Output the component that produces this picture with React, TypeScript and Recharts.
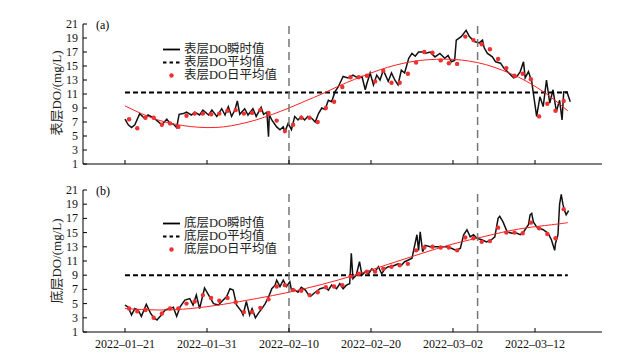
import { ComposedChart, Line, ReferenceLine, Scatter, XAxis, YAxis } from "recharts";

// x values are days since 2022-01-21
const dateTicks = [0, 10, 20, 30, 40, 50];
const dateLabels = ["2022–01–21", "2022–01–31", "2022–02–10", "2022–02–20", "2022–03–02", "2022–03–12"];
const doTicks = [1, 3, 5, 7, 9, 11, 13, 15, 17, 19, 21];
const splitDays = [20, 43];
const meanSpan = [0, 54];

const dailyDays = [
    0.5, 1.5, 2.5, 3.5, 4.5, 5.5, 6.5, 7.5, 8.5, 9.5, 10.5, 11.5, 12.5, 13.5, 14.5, 15.5, 16.5, 17.5,
    18.5, 19.5, 20.5, 21.5, 22.5, 23.5, 24.5, 25.5, 26.5, 27.5, 28.5, 29.5, 30.5, 31.5, 32.5, 33.5,
    34.5, 35.5, 36.5, 37.5, 38.5, 39.5, 40.5, 41.5, 42.5, 43.5, 44.5, 45.5, 46.5, 47.5, 48.5, 49.5,
    50.5, 51.5, 52.5, 53.5,
];

// 表层 (surface)
const surfT = [
    0, 0.4, 0.8, 1.2, 1.8, 2.4, 2.8, 3.5, 3.9, 4.5, 5.1, 5.5, 5.9, 6.3, 6.6, 7.1, 7.5, 8.1, 8.5, 9.1,
    9.5, 10.2, 10.6, 11.2, 11.8, 12.2, 12.6, 13.0, 13.4, 13.7, 14.0, 14.6, 15.0, 15.6, 16.0, 16.6,
    16.9, 17.3, 17.5, 17.6, 17.9, 18.5, 18.9, 19.3, 19.5, 19.9, 20.3, 20.7, 21.1, 21.5, 21.9, 22.3,
    22.8, 23.2, 23.6, 24.0, 24.4, 24.8, 25.2, 25.6, 26.0, 26.4, 26.6, 27.2, 27.8, 28.4, 28.9, 29.3,
    29.5, 29.9, 30.3, 30.7, 31.1, 31.5, 32.1, 32.5, 32.9, 33.3, 33.7, 34.1, 34.6, 35.0, 35.4, 35.8,
    36.4, 36.6, 37.2, 37.8, 38.4, 39.0, 39.4, 39.8, 40.2, 40.4, 41.0, 41.6, 42.0, 42.6, 43.2, 43.6,
    43.8, 44.2, 44.8, 45.2, 45.8, 46.2, 46.8, 47.4, 47.8, 48.2, 48.6, 48.8, 49.2, 49.6, 49.8, 50.2,
    50.6, 51.0, 51.4, 51.8, 52.2, 52.6, 53.0, 53.3, 53.5, 53.9, 54.3,
];
const surfInst = [
    7.4, 6.6, 6.2, 6.6, 8.2, 7.5, 8.0, 7.6, 7.2, 6.6, 7.4, 6.8, 6.7, 6.2, 8.1, 8.2, 8.4, 8.0, 8.4, 8.0,
    8.7, 8.0, 8.7, 7.8, 8.9, 8.0, 9.2, 7.8, 8.7, 10.0, 8.1, 8.9, 8.0, 8.9, 7.8, 9.1,
    8.1, 8.4, 4.9, 8.0, 7.3, 6.3, 5.9, 6.3, 5.6, 6.8, 5.9, 7.8, 7.3, 7.8, 7.3, 7.8,
    7.5, 7.0, 8.2, 9.0, 8.8, 10.1, 9.9, 11.3, 12.0, 13.0, 13.5, 13.3, 13.7, 13.3, 13.5, 11.6,
    12.5, 14.0, 12.3, 13.7, 13.0, 14.4, 12.8, 14.0, 13.0, 12.3, 14.4, 14.0, 16.1, 16.8, 16.4, 17.0,
    17.0, 16.8, 17.0, 16.3, 16.8, 16.1, 16.5, 15.6, 15.8, 18.7, 19.2, 20.1, 19.2, 18.5, 18.3, 18.7,
    17.6, 16.8, 16.3, 15.6, 15.4, 14.7, 14.0, 13.3, 13.5, 14.2, 15.6, 13.3, 14.2, 12.8, 11.1, 7.8,
    10.6, 9.2, 13.0, 9.7, 11.6, 8.5, 10.1, 7.3, 11.3, 11.3, 9.9,
];
const surfDaily = [
    7.4, 6.1, 7.6, 7.6, 6.6, 6.8, 6.3, 7.9, 8.2, 8.2, 8.1, 8.2, 8.6, 8.7, 8.2, 8.3, 8.7, 8.3,
    7.2, 5.7, 6.6, 7.6, 7.6, 7.0, 9.0, 9.9, 12.0, 13.4, 13.4, 13.6, 12.8, 14.3, 12.6, 12.6,
    13.9, 15.5, 17.0, 16.9, 15.8, 15.4, 15.3, 19.2, 18.7, 18.1, 17.4, 16.0, 14.7, 13.6, 13.9, 13.1,
    7.8, 9.6, 8.6, 10.0,
];
const surfFitT = [0, 2, 4, 6, 8, 10, 12, 14, 16, 18, 20, 22, 24, 26, 28, 30, 32, 34, 36, 38, 40, 42, 44, 46, 48, 50, 52, 54];
const surfFit = [
    9.3, 8.2, 7.3, 6.7, 6.35, 6.2, 6.3, 6.7, 7.3, 8.1, 9.0, 10.0, 11.0, 12.1, 13.1, 14.0, 14.8, 15.4,
    15.8, 15.95, 15.95, 15.7, 15.2, 14.4, 13.4, 12.1, 10.5, 8.6,
];
const surfMean = 11.2;

// 底层 (bottom)
const botT = [
    0, 0.4, 0.8, 1.2, 1.6, 2.0, 2.6, 3.1, 3.5, 3.9, 4.3, 4.9, 5.5, 5.9, 6.3, 6.7, 7.3, 7.9, 8.3, 8.7,
    9.1, 9.7, 10.2, 10.8, 11.4, 11.8, 12.4, 12.8, 13.2, 13.6, 14.2, 14.4, 14.8, 15.2, 15.5, 15.9,
    16.3, 16.7, 17.1, 17.5, 17.9, 18.3, 18.5, 18.9, 19.3, 19.7, 20.1, 20.3, 20.5, 21.1, 21.5, 22.0,
    22.4, 22.6, 23.2, 23.8, 24.4, 24.8, 25.2, 25.8, 26.2, 26.6, 27.0, 27.4, 27.6, 27.8, 28.2, 28.6,
    28.9, 29.3, 29.7, 30.1, 30.5, 30.9, 31.3, 31.7, 32.1, 32.5, 32.9, 33.3, 33.7, 34.1, 34.5, 35.0,
    35.2, 35.6, 35.8, 36.0, 36.3, 36.6, 37.2, 37.8, 38.4, 39.2, 39.8, 40.4, 40.9, 41.3, 41.7, 42.1,
    42.5, 42.9, 43.5, 44.1, 44.7, 45.1, 45.5, 45.7, 46.1, 46.6, 47.2, 47.8, 48.2, 48.6, 49.2, 49.4,
    49.6, 49.8, 50.2, 50.6, 51.0, 51.6, 52.0, 52.4, 52.5, 52.8, 53.0, 53.2, 53.4, 53.6, 53.8, 54.1,
];
const botInst = [
    4.8, 4.5, 3.4, 4.3, 4.1, 3.2, 4.9, 3.7, 3.0, 2.7, 3.2, 4.1, 4.3, 4.5, 3.2, 4.5, 5.5, 5.7, 4.8, 6.2,
    4.3, 7.2, 6.2, 5.0, 4.8, 5.3, 6.0, 7.1, 6.9, 4.8, 3.9, 3.4, 5.3, 3.4, 4.3, 3.0,
    3.7, 4.3, 5.0, 5.9, 7.1, 7.6, 8.3, 7.4, 8.3, 7.4, 8.1, 6.9, 7.1, 6.6, 7.3, 6.9,
    6.2, 6.0, 6.6, 7.1, 7.3, 6.9, 7.6, 7.1, 7.8, 7.1, 7.6, 7.8, 12.1, 8.5, 9.0, 10.9,
    9.0, 9.5, 9.2, 9.9, 9.5, 10.2, 9.2, 9.9, 10.2, 10.2, 10.4, 10.6, 10.4, 10.9, 11.1, 11.4,
    12.5, 14.7, 12.5, 15.1, 12.3, 13.2, 13.0, 13.0, 13.0, 13.0, 12.8, 12.5, 12.8, 14.7, 15.4, 14.4,
    14.7, 14.2, 14.0, 13.7, 14.0, 14.4, 17.0, 17.3, 16.5, 15.1, 14.9, 14.9, 14.7, 15.1, 16.1, 17.5,
    17.7, 16.5, 15.8, 15.6, 15.4, 14.9, 14.0, 12.5, 13.5, 14.7, 19.0, 20.4, 19.0, 18.1, 17.5, 18.1,
];
const botDaily = [
    4.3, 3.9, 4.1, 3.0, 3.6, 4.3, 4.3, 5.0, 5.3, 6.2, 5.8, 5.4, 5.8, 5.2, 3.8, 3.8, 4.4, 5.6,
    7.4, 7.6, 6.9, 6.8, 6.2, 6.6, 7.3, 7.4, 7.6, 8.8, 9.2, 9.5, 9.5, 9.9, 10.2, 10.4,
    10.6, 12.5, 12.9, 13.0, 12.9, 12.9, 12.5, 14.3, 14.2, 13.7, 13.8, 15.7, 15.0, 15.0, 14.9, 16.4,
    15.6, 14.8, 14.2, 18.3,
];
const botFitT = [0, 4, 8, 12, 16, 20, 24, 28, 32, 36, 40, 44, 48, 52, 54];
const botFit = [4.3, 4.1, 4.3, 4.9, 5.7, 6.6, 7.7, 9.0, 10.5, 12.0, 13.4, 14.5, 15.5, 16.1, 16.4];
const botMean = 9.0;

const serif = '"Liberation Serif", "Times New Roman", "Noto Sans CJK SC", serif';
const W = 633;

const rows = (ts: number[], vs: number[]) => ts.map((t, i) => ({ t, v: vs[i] }));

function DateTick(props: any) {
    const { x, y, payload, showLabel } = props;
    const i = dateTicks.indexOf(payload.value);
    return (
        <g>
            <line x1={x} x2={x} y1={y} y2={y - 4} stroke="#000" strokeWidth={1} />
            {showLabel && (
                <text x={x} y={y + 16} textAnchor="middle" fontSize={12} fontFamily={serif} fill="#111">
                    {dateLabels[i]}
                </text>
            )}
        </g>
    );
}

function DoTick(props: any) {
    const { x, y, payload } = props;
    return (
        <g>
            <line x1={x} x2={x + 4} y1={y} y2={y} stroke="#000" strokeWidth={1} />
            <text x={x - 5} y={y + 4} textAnchor="end" fontSize={12} fontFamily={serif} fill="#111">
                {payload.value}
            </text>
        </g>
    );
}

function LegendBox({ top, layer }: { top: number; layer: string }) {
    const row = { display: "flex", alignItems: "center", height: 13 } as const;
    const txt = { lineHeight: "12px", height: 12 } as const;
    return (
        <div style={{ position: "absolute", left: 163, top, fontFamily: serif, fontSize: 12.5, color: "#222" }}>
            <div style={row}>
                <svg width={21} height={13}>
                    <line x1={0} x2={17} y1={6.5} y2={6.5} stroke="#000" strokeWidth={1.8} />
                </svg>
                <span style={txt}>{layer}DO瞬时值</span>
            </div>
            <div style={row}>
                <svg width={21} height={13}>
                    <line x1={0} x2={17} y1={6.5} y2={6.5} stroke="#000" strokeWidth={1.8} strokeDasharray="3.5 3" />
                </svg>
                <span style={txt}>{layer}DO平均值</span>
            </div>
            <div style={row}>
                <svg width={21} height={13}>
                    <circle cx={8.5} cy={6.5} r={2.2} fill="#f03030" />
                </svg>
                <span style={txt}>{layer}DO日平均值</span>
            </div>
        </div>
    );
}

function Panel({ top, height, mb, inst, daily, fit, mean, showDates }: any) {
    return (
        <div style={{ position: "absolute", left: 0, top }}>
            <ComposedChart width={W} height={height} margin={{ top: 24, right: 31, bottom: mb, left: 23 }}>
                <XAxis
                    type="number"
                    dataKey="t"
                    domain={[-5.12, 58.17]}
                    ticks={dateTicks}
                    allowDataOverflow
                    height={1}
                    tickLine={false}
                    tickSize={0}
                    tickMargin={0}
                    axisLine={{ stroke: "#000", strokeWidth: 1 }}
                    tick={(p: any) => <DateTick {...p} showLabel={showDates} />}
                    interval={0}
                />
                <YAxis
                    type="number"
                    dataKey="v"
                    domain={[1, 21]}
                    ticks={doTicks}
                    allowDataOverflow
                    width={60}
                    tickLine={false}
                    tickSize={0}
                    tickMargin={0}
                    axisLine={{ stroke: "#000", strokeWidth: 1 }}
                    tick={(p: any) => <DoTick {...p} />}
                    interval={0}
                />
                <Line data={inst} dataKey="v" type="linear" stroke="#111" strokeWidth={1.5} dot={false} isAnimationActive={false} />
                <Line
                    data={rows(meanSpan, [mean, mean])}
                    dataKey="v"
                    type="linear"
                    stroke="#000"
                    strokeWidth={2}
                    strokeDasharray="5 3"
                    dot={false}
                    isAnimationActive={false}
                />
                <Line data={fit} dataKey="v" type="natural" stroke="#ff2020" strokeWidth={1} dot={false} isAnimationActive={false} />
                <Scatter
                    data={daily}
                    isAnimationActive={false}
                    shape={(p: any) => <circle cx={p.cx} cy={p.cy} r={2.2} fill="#f03030" />}
                />
                {splitDays.map((d) => (
                    <ReferenceLine key={d} x={d} stroke="#777" strokeWidth={1.5} strokeDasharray="8 5" />
                ))}
            </ComposedChart>
        </div>
    );
}

const ylab = (top: number, text: string) => (
    <div
        style={{
            position: "absolute",
            left: 55,
            top,
            transform: "translate(-50%, -50%) rotate(-90deg)",
            whiteSpace: "nowrap",
            fontFamily: serif,
            fontSize: 13,
            color: "#222",
        }}
    >
        {text}
    </div>
);

export default function App() {
    return (
        <div style={{ position: "absolute", left: 0, top: 0, width: W, height: 355, background: "#fff", overflow: "hidden" }}>
            <Panel
                top={0}
                height={180}
                mb={15}
                inst={rows(surfT, surfInst)}
                daily={rows(dailyDays, surfDaily)}
                fit={rows(surfFitT, surfFit)}
                mean={surfMean}
                showDates={false}
            />
            <Panel
                top={166}
                height={189}
                mb={22}
                inst={rows(botT, botInst)}
                daily={rows(dailyDays, botDaily)}
                fit={rows(botFitT, botFit)}
                mean={botMean}
                showDates={true}
            />
            {ylab(93, "表层DO/(mg/L)")}
            {ylab(261, "底层DO/(mg/L)")}
            <div style={{ position: "absolute", left: 96, top: 18, fontFamily: serif, fontSize: 12, lineHeight: "14px" }}>(a)</div>
            <div style={{ position: "absolute", left: 96, top: 184, fontFamily: serif, fontSize: 12, lineHeight: "14px" }}>(b)</div>
            <LegendBox top={42.5} layer="表层" />
            <LegendBox top={216.5} layer="底层" />
        </div>
    );
}
